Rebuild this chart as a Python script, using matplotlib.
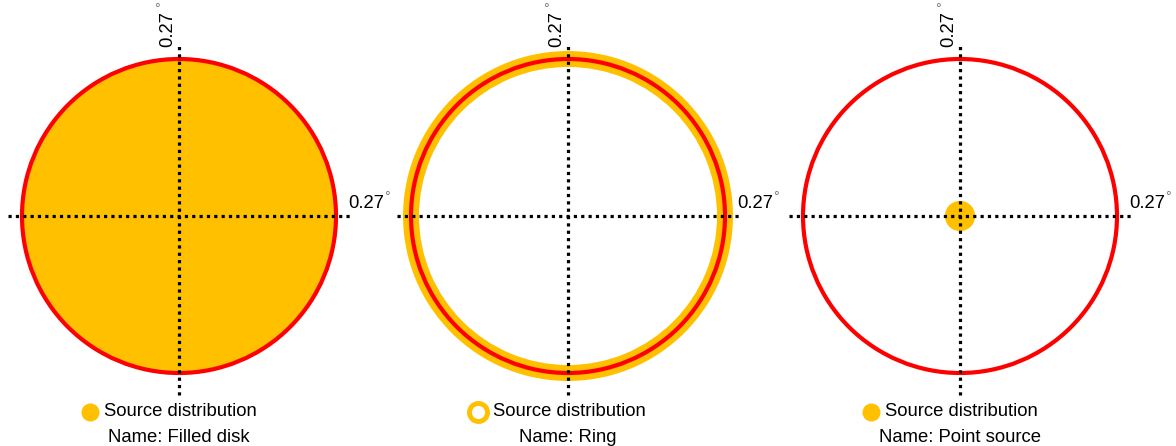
import matplotlib.pyplot as plt
from matplotlib.patches import Circle, Annulus

plt.rcParams['font.family'] = ['Liberation Sans', 'DejaVu Sans']

# data (degrees)
names = ["Filled disk", "Ring", "Point source"]
kinds = ["disk", "ring", "point"]
fov_deg = 0.27          # axis label value
psf_radius = 0.135      # red circle radius
ring_width = 0.012
point_radius = 0.013

YELLOW = '#FFC000'
RED = '#FF0000'

W, H = 1176, 446
centres_px = [179, 568, 960]
cy_px = 216
s = 157 / psf_radius    # pixels per degree


def px(v):
    return v / s


fig = plt.figure(figsize=(W / 100, H / 100), dpi=100)

for cx, name, kind in zip(centres_px, names, kinds):
    ax = fig.add_axes([(cx - 195) / W, 0, 390 / W, 1])
    ax.set_xlim(px(-195), px(195))
    ax.set_ylim(px(-(H - cy_px)), px(cy_px))
    ax.axis('off')

    # source
    if kind == "disk":
        ax.add_patch(Circle((0, 0), psf_radius, facecolor=YELLOW, edgecolor='none', clip_on=False))
    elif kind == "ring":
        ax.add_patch(Annulus((0, 0), psf_radius + ring_width / 2 + px(1), ring_width + px(2),
                             facecolor=YELLOW, edgecolor='none', clip_on=False))
    else:
        ax.add_patch(Circle((0, 0), point_radius, facecolor=YELLOW, edgecolor='none', clip_on=False))

    # red circle
    ax.add_patch(Circle((0, 0), psf_radius, fill=False, edgecolor=RED, lw=3, clip_on=False))

    # dotted axes
    dot = dict(color='black', lw=2.3, linestyle=(0, (1, 1.3)), clip_on=False)
    ax.plot([px(-171), px(171)], [0, 0], **dot)
    ax.plot([0, 0], [px(-179), px(171)], **dot)

    # labels
    ax.text(px(-7), px(169), f"{fov_deg:.2f}", rotation=90, rotation_mode='anchor',
            ha='left', va='baseline', fontsize=13.3)
    ax.text(px(-22), px(207), "°", color='#777777', fontsize=10, ha='center', va='center')
    ax.text(px(169), px(8), f"{fov_deg:.2f}", ha='left', va='baseline', fontsize=13.3)
    ax.text(px(208), px(19), "°", color='#777777', fontsize=10, ha='center', va='center')

    # legend
    if kind == "ring":
        ax.plot(px(-90), px(-196), 'o', ms=13, mfc='white', mec=YELLOW, mew=3.5, clip_on=False)
    else:
        ax.plot(px(-89), px(-196), 'o', ms=13, mfc=YELLOW, mec='none', clip_on=False)
    ax.text(px(-75), px(-196), "Source distribution", ha='left', va='center', fontsize=13.3)
    ax.text(0, px(-222), f"Name: {name}", ha='center', va='center', fontsize=13.3)

fig.savefig('out.png', dpi=100)
